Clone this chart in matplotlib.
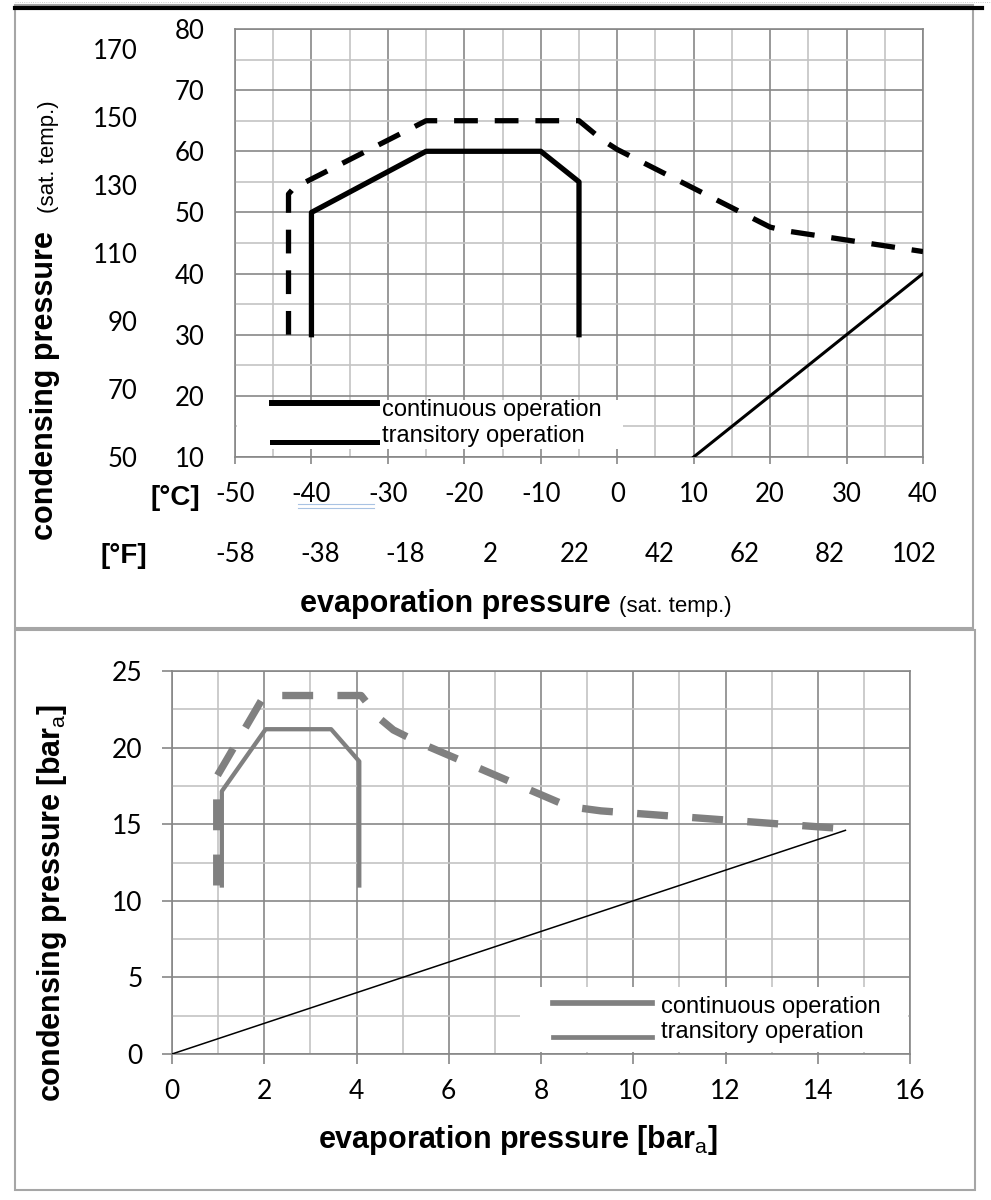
import matplotlib
matplotlib.use("Agg")
import matplotlib.pyplot as plt
from matplotlib.lines import Line2D
from matplotlib.patches import Rectangle
from matplotlib.ticker import MultipleLocator
from matplotlib.legend_handler import HandlerLine2D

W, H = 991, 1200

# --- top chart: saturation temperatures (deg C) ---
cont_evap_c = [-40, -40, -25, -10, -5, -5]
cont_cond_c = [30, 50, 60, 60, 55, 30]
trans_evap_c = [-43, -43, -42.3, -25, -5, -2, 0, 20, 22, 40]
trans_cond_c = [30, 53, 54, 65, 65, 61.9, 60.3, 47.6, 47.0, 43.6]
limit_evap_c = [10, 40]
limit_cond_c = [10, 40]
f_ticks_y = [50, 70, 90, 110, 130, 150, 170]
f_ticks_x = [-58, -38, -18, 2, 22, 42, 62, 82, 102]

# --- bottom chart: absolute pressures (bar) ---
cont_evap_p = [1.08, 1.08, 2.03, 3.45, 4.06, 4.06]
cont_cond_p = [11, 17.15, 21.2, 21.2, 19.1, 11]
trans_evap_p = [0.97, 0.97, 2.0, 4.1, 4.5, 4.8, 5.3, 8.6, 9.3, 14.6]
trans_cond_p = [11, 18.1, 23.4, 23.4, 21.9, 21.15, 20.4, 16.15, 15.87, 14.7]
limit_evap_p = [0, 14.6]
limit_cond_p = [0, 14.6]

labels = ["continuous operation", "transitory operation"]

MAJ = "#878787"
MIN = "#c4c4c4"
GREY = "#808080"
TICK_FONT = ["Lato", "DejaVu Sans"]
LABEL_FONT = ["Liberation Sans", "DejaVu Sans"]

plt.rcParams["axes.unicode_minus"] = False
plt.rcParams["font.family"] = LABEL_FONT
plt.rcParams["mathtext.fontset"] = "custom"
plt.rcParams["mathtext.rm"] = "Liberation Sans"
plt.rcParams["mathtext.bf"] = "Liberation Sans:bold"


def c2f(c):
    return c * 9 / 5 + 32


def f2c(f):
    return (f - 32) * 5 / 9


def fx(x):
    return x / W


def fy(y):
    return 1 - y / H


class ShiftedLine(HandlerLine2D):
    # legend key drawn a few points above/below its label
    def __init__(self, dy=0.0, **kw):
        super().__init__(**kw)
        self.dy = dy

    def create_artists(self, legend, orig_handle, xdescent, ydescent,
                       width, height, fontsize, trans):
        arts = super().create_artists(legend, orig_handle, xdescent, ydescent,
                                      width, height, fontsize, trans)
        for a in arts:
            a.set_ydata([y + self.dy for y in a.get_ydata()])
        return arts


def style_grid(ax, xmaj, xmin, ymaj, ymin):
    ax.xaxis.set_major_locator(MultipleLocator(xmaj))
    ax.xaxis.set_minor_locator(MultipleLocator(xmin))
    ax.yaxis.set_major_locator(MultipleLocator(ymaj))
    ax.yaxis.set_minor_locator(MultipleLocator(ymin))
    ax.set_axisbelow(True)
    ax.grid(which="major", color=MAJ, lw=1.2)
    ax.grid(which="minor", color=MIN, lw=1.2)
    for s in ax.spines.values():
        s.set_color(MAJ)
        s.set_linewidth(1.2)
    ax.tick_params(which="minor", length=0)


fig = plt.figure(figsize=(W / 100, H / 100), dpi=100)

# ---------------- top chart ----------------
ax1 = fig.add_axes([fx(235), fy(457), 688 / W, 428 / H])
ax1.set_xlim(-50, 40)
ax1.set_ylim(10, 80)
style_grid(ax1, 10, 5, 10, 5)
ax1.tick_params(axis="x", which="major", length=5, width=1.2, color=MAJ,
                pad=13, labelsize=18.5, labelfontfamily=TICK_FONT)
ax1.tick_params(axis="y", which="major", length=0, pad=22,
                labelsize=18.5, labelfontfamily=TICK_FONT)

ax1.plot(cont_evap_c, cont_cond_c, color="black", lw=3.8, zorder=3)
ax1.plot(trans_evap_c, trans_cond_c, color="black", lw=3.8,
         dashes=(4.5, 3.2), zorder=3)
ax1.plot(limit_evap_c, limit_cond_c, color="black", lw=2.2, zorder=3)

secx = ax1.secondary_xaxis("bottom", functions=(c2f, f2c))
secx.set_xticks(f_ticks_x)
secx.tick_params(length=0, pad=61, labelsize=18.5, labelfontfamily=TICK_FONT)
secx.spines["bottom"].set_visible(False)

secy = ax1.secondary_yaxis("left", functions=(c2f, f2c))
secy.set_yticks(f_ticks_y)
secy.tick_params(length=0, pad=70, labelsize=18.5, labelfontfamily=TICK_FONT)
secy.spines["left"].set_visible(False)

ax1.add_patch(Rectangle((0.003, 0.019), 0.561, 0.114, transform=ax1.transAxes,
                        facecolor="white", edgecolor="none", zorder=1))
h1 = [Line2D([], [], color="black", lw=4.3), Line2D([], [], color="black", lw=3.6)]
ax1.legend(h1, labels, loc="center left", bbox_to_anchor=(0.054, 0.079),
           frameon=False, prop={"family": LABEL_FONT, "size": 17},
           handlelength=4.45, handletextpad=0.2, labelspacing=0.17,
           borderpad=0, borderaxespad=0,
           handler_map={h1[0]: ShiftedLine(dy=3.6), h1[1]: ShiftedLine(dy=-5.8)})

# ---------------- bottom chart ----------------
ax2 = fig.add_axes([fx(172), fy(1054), 738 / W, 383 / H])
ax2.set_xlim(0, 16)
ax2.set_ylim(0, 25)
style_grid(ax2, 2, 1, 5, 2.5)
ax2.tick_params(which="major", length=7, width=1.2, color=MAJ,
                labelsize=19, labelfontfamily=TICK_FONT)
ax2.tick_params(axis="x", which="major", pad=11)
ax2.tick_params(axis="y", which="major", pad=14)

ax2.plot(cont_evap_p, cont_cond_p, color=GREY, lw=3.1, zorder=3)
ax2.plot(trans_evap_p, trans_cond_p, color=GREY, lw=5.3,
         dashes=(4.2, 3.3), zorder=3)
ax2.plot(limit_evap_p, limit_cond_p, color="black", lw=1.1, zorder=3)

ax2.add_patch(Rectangle((0.4715, 0.006), 0.526, 0.17, transform=ax2.transAxes,
                        facecolor="white", edgecolor="none", zorder=1))
h2 = [Line2D([], [], color=GREY, lw=4.1), Line2D([], [], color=GREY, lw=3.4)]
ax2.legend(h2, labels, loc="center left", bbox_to_anchor=(0.516, 0.091),
           frameon=False, prop={"family": LABEL_FONT, "size": 17},
           handlelength=4.2, handletextpad=0.4, labelspacing=0.13,
           borderpad=0, borderaxespad=0,
           handler_map={h2[0]: ShiftedLine(dy=0.7), h2[1]: ShiftedLine(dy=-5.8)})

# ---------------- axis titles ----------------
fig.text(fx(175), fy(498), "[°C]", ha="center", va="center",
         fontsize=20, fontweight="bold")
fig.text(fx(124), fy(556), "[°F]", ha="center", va="center",
         fontsize=20, fontweight="bold")

fig.text(fx(53), fy(540), "condensing pressure", rotation=90,
         rotation_mode="anchor", ha="left", va="baseline",
         fontsize=22, fontweight="bold")
fig.text(fx(54), fy(213), "(sat. temp.)", rotation=90,
         rotation_mode="anchor", ha="left", va="baseline", fontsize=16)
fig.text(fx(300), fy(612), "evaporation pressure", ha="left", va="baseline",
         fontsize=22, fontweight="bold")
fig.text(fx(619), fy(612), "(sat. temp.)", ha="left", va="baseline",
         fontsize=16)

fig.text(fx(60), fy(1102), r"condensing pressure [bar$_\mathrm{a}$]",
         rotation=90, rotation_mode="anchor", ha="left", va="baseline",
         fontsize=22, fontweight="bold")
fig.text(fx(518), fy(1148), r"evaporation pressure [bar$_\mathrm{a}$]",
         ha="center", va="baseline", fontsize=22, fontweight="bold")

# ---------------- panel frames ----------------
fig.add_artist(Rectangle((fx(15), fy(628)), 958 / W, 623 / H,
                         transform=fig.transFigure, facecolor="none",
                         edgecolor="#a6a6a6", lw=1.5))
fig.add_artist(Rectangle((fx(15), fy(1190)), 960 / W, 560 / H,
                         transform=fig.transFigure, facecolor="none",
                         edgecolor="#a6a6a6", lw=1.5))
fig.add_artist(Line2D([fx(15), fx(982)], [fy(8), fy(8)],
                      transform=fig.transFigure, color="black", lw=3))
fig.add_artist(Line2D([fx(15), fx(991)], [fy(2), fy(2)],
                      transform=fig.transFigure, color="#bbbbbb", lw=0.6,
                      ls=":"))
# spell-check underline under "-40 -30"
for yy in (504, 508):
    fig.add_artist(Line2D([fx(298), fx(374)], [fy(yy), fy(yy)],
                          transform=fig.transFigure, color="#a9c3e3", lw=0.8))

fig.savefig("out.png", dpi=100)
plt.close(fig)
